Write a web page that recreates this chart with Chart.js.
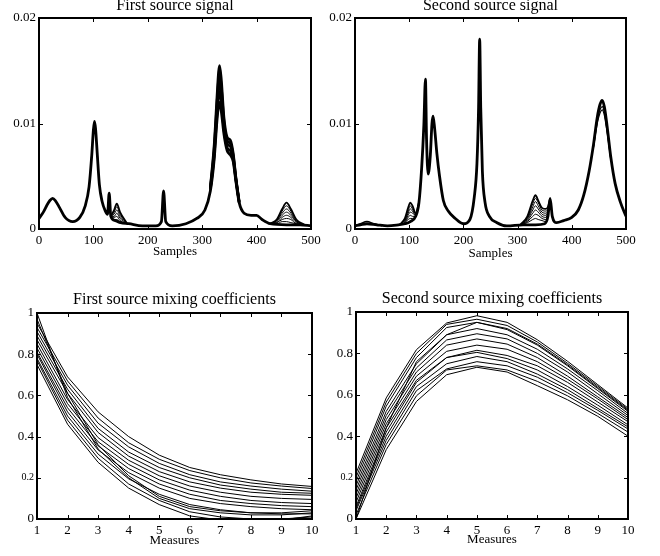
<!DOCTYPE html>
<html>
<head>
<meta charset="UTF-8" />
<title>Source signals and mixing coefficients</title>
<script src="https://cdn.jsdelivr.net/npm/chart.js"></script>
<style>
  html, body { margin: 0; padding: 0; background: #fff; }
  #wrap { position: relative; width: 660px; height: 556px; overflow: hidden; }
  canvas { position: absolute; }
</style>
</head>
<body>
<div id="wrap">
  <canvas id="c1" width="330" height="280" style="left:0;top:0"></canvas>
  <canvas id="c2" width="330" height="280" style="left:315px;top:0"></canvas>
  <canvas id="c3" width="330" height="276" style="left:0;top:280px"></canvas>
  <canvas id="c4" width="330" height="276" style="left:316px;top:280px"></canvas>
</div>

<script>
// ---- first source signal (common curve, then the bands where the curves differ)
const s1X = [0, 8, 15, 20, 25, 30, 38, 48, 62, 75, 85, 92, 97, 100, 102, 104, 107, 111, 116, 122,
  126, 129, 132, 140, 150, 165, 190, 215, 225, 229, 233, 245, 270, 290, 305, 315, 322, 327, 330, 332,
  335, 340, 346, 352, 357, 362, 368, 377, 390, 400, 410, 425, 455, 480, 500];
const s1Y = [0.0010, 0.0016, 0.0023, 0.0027, 0.0029, 0.0027, 0.0020, 0.0011, 0.0007, 0.0011,
  0.0022, 0.0040, 0.0070, 0.0094, 0.0102, 0.0095, 0.0072, 0.0042, 0.0026, 0.0017,
  0.0014, 0.0034, 0.0012, 0.0008, 0.0006, 0.0005, 0.0003, 0.0003, 0.0007, 0.0036,
  0.0007, 0.0003, 0.0005, 0.0010, 0.0018, 0.0036, 0.0066, 0.0102, 0.0117, 0.0120,
  0.0112, 0.0090, 0.0074, 0.0070, 0.0064, 0.0045, 0.0025, 0.0015, 0.0013, 0.0013,
  0.0009, 0.0005, 0.0004, 0.0004, 0.0003];

const s1PX = [95, 99, 102, 105, 109];
const s1P = [[0.0060, 0.0084, 0.0096, 0.0086, 0.0060]];

const s1AX = [132, 138, 143, 149, 162];
const s1A = [
  [0.0012, 0.0018, 0.0024, 0.0016, 0.0005],
  [0.0012, 0.0016, 0.0021, 0.0014, 0.0005],
  [0.0012, 0.0014, 0.0018, 0.0012, 0.0005],
  [0.0012, 0.0012, 0.0015, 0.0010, 0.0005],
  [0.0012, 0.0011, 0.0012, 0.0008, 0.0005],
  [0.0012, 0.0009, 0.0009, 0.0007, 0.0005]
];

const s1BX = [315, 322, 327, 330, 332, 335, 340, 346, 352, 357, 362, 368];
const s1B = [
  [0.0040, 0.0080, 0.0124, 0.0149, 0.0155, 0.0143, 0.0106, 0.0087, 0.0084, 0.0072, 0.0049, 0.0026],
  [0.0039, 0.0076, 0.0118, 0.0141, 0.0147, 0.0136, 0.0102, 0.0084, 0.0081, 0.0070, 0.0048, 0.0026],
  [0.0038, 0.0072, 0.0112, 0.0133, 0.0139, 0.0129, 0.0098, 0.0081, 0.0078, 0.0068, 0.0047, 0.0025],
  [0.0037, 0.0069, 0.0107, 0.0125, 0.0130, 0.0121, 0.0094, 0.0077, 0.0074, 0.0066, 0.0046, 0.0025]
];

const s1CX = [425, 437, 447, 455, 463, 473, 488];
const s1C = [
  [0.0005, 0.0009, 0.0019, 0.0025, 0.0019, 0.0009, 0.0004],
  [0.0005, 0.0008, 0.0017, 0.0022, 0.0017, 0.0008, 0.0004],
  [0.0005, 0.0008, 0.0015, 0.0019, 0.0015, 0.0007, 0.0004],
  [0.0005, 0.0007, 0.0013, 0.0016, 0.0013, 0.0007, 0.0004],
  [0.0005, 0.0006, 0.0011, 0.0013, 0.0011, 0.0006, 0.0004],
  [0.0005, 0.0006, 0.0009, 0.0010, 0.0009, 0.0005, 0.0004],
  [0.0005, 0.0005, 0.0007, 0.0007, 0.0006, 0.0005, 0.0004]
];

// ---- second source signal
const s2X = [0, 10, 22, 40, 60, 80, 92, 102, 112, 118, 123, 127, 130, 132, 135, 139, 142, 144, 147, 151,
  156, 163, 172, 185, 200, 212, 220, 225, 228, 230, 232, 235, 240, 248, 262, 280, 310, 333, 350, 356,
  360, 364, 372, 385, 400, 412, 422, 432, 440, 447, 452, 456, 460, 465, 472, 480, 490, 500];
const s2Y = [0.0003, 0.0004, 0.0005, 0.0004, 0.0003, 0.0004, 0.0005, 0.0007, 0.0012, 0.0025,
  0.0058, 0.0098, 0.0142, 0.0085, 0.0052, 0.0070, 0.0100, 0.0107, 0.0095, 0.0072,
  0.0050, 0.0027, 0.0017, 0.0010, 0.0005, 0.0009, 0.0030, 0.0062, 0.0115, 0.0180,
  0.0115, 0.0055, 0.0025, 0.0012, 0.0006, 0.0003, 0.0004, 0.0004, 0.0005, 0.0012,
  0.0029, 0.0012, 0.0006, 0.0008, 0.0011, 0.0018, 0.0032, 0.0055, 0.0080, 0.0106,
  0.0118, 0.0122, 0.0116, 0.0098, 0.0068, 0.0043, 0.0025, 0.0012];

const s2AX = [0, 10, 22, 35, 50];
const s2A = [[0.0003, 0.0005, 0.0007, 0.0005, 0.0003]];

const s2BX = [82, 92, 98, 102, 106, 112, 118];
const s2B = [
  [0.0004, 0.0010, 0.0020, 0.0025, 0.0022, 0.0015, 0.0025],
  [0.0004, 0.0009, 0.0017, 0.0022, 0.0019, 0.0014, 0.0025],
  [0.0004, 0.0008, 0.0015, 0.0019, 0.0017, 0.0013, 0.0025],
  [0.0004, 0.0007, 0.0013, 0.0016, 0.0015, 0.0013, 0.0025],
  [0.0004, 0.0006, 0.0011, 0.0013, 0.0012, 0.0012, 0.0025],
  [0.0004, 0.0006, 0.0009, 0.0010, 0.0010, 0.0012, 0.0025]
];

const s2CX = [305, 318, 328, 333, 338, 345, 352, 356, 360];
const s2C = [
  [0.0004, 0.0012, 0.0027, 0.0032, 0.0027, 0.0020, 0.0019, 0.0021, 0.0029],
  [0.0004, 0.0011, 0.0024, 0.0029, 0.0025, 0.0018, 0.0017, 0.0019, 0.0029],
  [0.0004, 0.0010, 0.0021, 0.0026, 0.0022, 0.0016, 0.0015, 0.0018, 0.0029],
  [0.0004, 0.0009, 0.0018, 0.0022, 0.0019, 0.0014, 0.0013, 0.0017, 0.0029],
  [0.0004, 0.0008, 0.0015, 0.0018, 0.0016, 0.0012, 0.0011, 0.0016, 0.0029],
  [0.0004, 0.0007, 0.0012, 0.0014, 0.0013, 0.0010, 0.0009, 0.0015, 0.0029],
  [0.0004, 0.0006, 0.0009, 0.0010, 0.0009, 0.0008, 0.0007, 0.0014, 0.0029]
];

const s2DX = [440, 447, 452, 456, 460, 465, 472];
const s2D = [
  [0.0078, 0.0102, 0.0113, 0.0116, 0.0111, 0.0094, 0.0066],
  [0.0077, 0.0100, 0.0110, 0.0113, 0.0108, 0.0092, 0.0065]
];

// ---- mixing coefficients, one row per measured curve
const measures = [1, 2, 3, 4, 5, 6, 7, 8, 9, 10];
const mix1 = [
  [1.00, 0.59, 0.34, 0.20, 0.10, 0.05, 0.03, 0.02, 0.02, 0.03],
  [0.97, 0.61, 0.36, 0.21, 0.11, 0.06, 0.04, 0.03, 0.03, 0.04],
  [0.95, 0.69, 0.52, 0.40, 0.31, 0.25, 0.215, 0.19, 0.17, 0.158],
  [0.93, 0.67, 0.49, 0.37, 0.29, 0.235, 0.20, 0.175, 0.16, 0.148],
  [0.91, 0.65, 0.465, 0.35, 0.27, 0.215, 0.18, 0.16, 0.145, 0.135],
  [0.89, 0.63, 0.44, 0.325, 0.25, 0.20, 0.165, 0.145, 0.13, 0.125],
  [0.87, 0.61, 0.42, 0.305, 0.23, 0.18, 0.15, 0.13, 0.12, 0.115],
  [0.85, 0.58, 0.395, 0.285, 0.21, 0.16, 0.13, 0.11, 0.10, 0.095],
  [0.83, 0.56, 0.375, 0.265, 0.19, 0.14, 0.11, 0.09, 0.08, 0.075],
  [0.81, 0.54, 0.355, 0.245, 0.17, 0.12, 0.09, 0.075, 0.065, 0.06],
  [0.80, 0.52, 0.335, 0.225, 0.15, 0.10, 0.075, 0.06, 0.05, 0.045],
  [0.78, 0.50, 0.315, 0.195, 0.12, 0.07, 0.045, 0.03, 0.025, 0.025],
  [0.77, 0.48, 0.295, 0.17, 0.09, 0.035, 0.01, 0.0, 0.0, 0.01],
  [0.75, 0.46, 0.275, 0.15, 0.07, 0.015, -0.005, -0.01, -0.005, 0.015]
];
const mix2 = [
  [0.22, 0.585, 0.818, 0.947, 0.982, 0.95, 0.866, 0.762, 0.649, 0.536],
  [0.20, 0.565, 0.80, 0.94, 0.965, 0.935, 0.855, 0.752, 0.642, 0.53],
  [0.18, 0.545, 0.78, 0.925, 0.95, 0.92, 0.845, 0.745, 0.635, 0.525],
  [0.0, 0.44, 0.76, 0.89, 0.95, 0.915, 0.84, 0.74, 0.63, 0.52],
  [0.16, 0.52, 0.75, 0.89, 0.92, 0.89, 0.82, 0.725, 0.62, 0.51],
  [0.14, 0.50, 0.73, 0.865, 0.895, 0.87, 0.80, 0.71, 0.605, 0.50],
  [0.12, 0.48, 0.71, 0.84, 0.87, 0.845, 0.78, 0.69, 0.59, 0.49],
  [0.10, 0.46, 0.69, 0.81, 0.84, 0.82, 0.76, 0.675, 0.58, 0.48],
  [0.08, 0.44, 0.67, 0.78, 0.815, 0.79, 0.74, 0.66, 0.565, 0.47],
  [0.06, 0.42, 0.66, 0.78, 0.805, 0.775, 0.72, 0.64, 0.55, 0.455],
  [0.05, 0.40, 0.64, 0.75, 0.785, 0.76, 0.70, 0.625, 0.535, 0.445],
  [0.04, 0.38, 0.62, 0.725, 0.76, 0.74, 0.685, 0.61, 0.525, 0.435],
  [0.02, 0.36, 0.595, 0.72, 0.74, 0.72, 0.665, 0.595, 0.51, 0.42],
  [0.0, 0.335, 0.568, 0.697, 0.733, 0.71, 0.644, 0.576, 0.496, 0.40]
];

const SERIF = '"Liberation Serif", "DejaVu Serif", serif';
Chart.defaults.font.family = SERIF;
Chart.defaults.color = '#000';

function curve(xs, ys, w, smooth) {
  return {
    data: xs.map((x, i) => ({ x: x, y: ys[i] })),
    borderColor: '#000',
    borderWidth: w,
    pointRadius: 0,
    fill: false,
    clip: 0,
    tension: 0,
    cubicInterpolationMode: smooth ? 'monotone' : 'default'
  };
}

function bands(xs, rows, firstW, restW) {
  return rows.map((r, i) => curve(xs, r, i === 0 ? firstW : restW, true));
}

// box with inward ticks on all four sides, like the original figure
const framePlugin = {
  id: 'frame',
  afterDatasetsDraw(chart) {
    const { ctx, chartArea: a, scales } = chart;
    const sx = scales.x, sy = scales.y;
    ctx.save();
    ctx.strokeStyle = '#000';
    ctx.lineWidth = 1;
    ctx.beginPath();
    sx.ticks.forEach(t => {
      const px = Math.round(sx.getPixelForValue(t.value)) + 0.5;
      ctx.moveTo(px, a.bottom); ctx.lineTo(px, a.bottom - 4);
      ctx.moveTo(px, a.top); ctx.lineTo(px, a.top + 4);
    });
    sy.ticks.forEach(t => {
      const py = Math.round(sy.getPixelForValue(t.value)) + 0.5;
      ctx.moveTo(a.left, py); ctx.lineTo(a.left + 4, py);
      ctx.moveTo(a.right, py); ctx.lineTo(a.right - 4, py);
    });
    ctx.stroke();
    ctx.lineWidth = 2;
    ctx.strokeRect(a.left, a.top, a.right - a.left, a.bottom - a.top);
    ctx.restore();
  }
};

function makeChart(id, o) {
  return new Chart(document.getElementById(id), {
    type: 'line',
    data: { datasets: o.datasets },
    plugins: [framePlugin],
    options: {
      responsive: false,
      animation: false,
      devicePixelRatio: 1,
      events: [],
      layout: { padding: { left: 0, right: o.padRight, top: 0, bottom: 0 } },
      plugins: {
        legend: { display: false },
        tooltip: { enabled: false },
        title: {
          display: true,
          text: o.title,
          fullSize: false,
          color: '#000',
          font: { family: SERIF, size: 16, weight: 'normal', lineHeight: 0.75 },
          padding: { top: o.titleTop, bottom: o.titleBottom }
        }
      },
      scales: {
        x: {
          type: 'linear',
          min: o.xMin, max: o.xMax,
          grid: { display: false, drawTicks: false },
          border: { display: false },
          ticks: { stepSize: o.xStep, autoSkip: false, maxRotation: 0, padding: 4,
                   color: '#000', font: { family: SERIF, size: 13 } },
          title: { display: true, text: o.xTitle, color: '#000',
                   font: { family: SERIF, size: 13 }, padding: { top: 0, bottom: o.xTitlePad } },
          afterFit: s => { s.height = o.xHeight; }
        },
        y: {
          type: 'linear',
          min: o.yMin, max: o.yMax,
          grid: { display: false, drawTicks: false },
          border: { display: false },
          ticks: { stepSize: o.yStep, padding: 3, color: '#000',
                   callback: v => String(+v.toFixed(3)),
                   font: o.yFont },
          afterFit: s => { s.width = o.yWidth; }
        }
      }
    }
  });
}

const signalFont = { family: SERIF, size: 13 };
const mixFont = ctx => ({ family: SERIF, size: (ctx.tick && Math.abs(ctx.tick.value - 0.2) < 1e-6) ? 10 : 13 });

makeChart('c1', {
  title: 'First source signal', xTitle: 'Samples',
  xMin: 0, xMax: 500, xStep: 100, yMin: 0, yMax: 0.02, yStep: 0.01,
  yWidth: 39, xHeight: 51, padRight: 19, titleTop: 0, titleBottom: 6, xTitlePad: 21,
  yFont: signalFont,
  datasets: [curve(s1X, s1Y, 2.8, true)]
    .concat(bands(s1PX, s1P, 1, 1))
    .concat(bands(s1AX, s1A, 1.8, 1))
    .concat(bands(s1BX, s1B, 2.6, 2.6))
    .concat(bands(s1CX, s1C, 1.8, 1))
});

makeChart('c2', {
  title: 'Second source signal', xTitle: 'Samples',
  xMin: 0, xMax: 500, xStep: 100, yMin: 0, yMax: 0.02, yStep: 0.01,
  yWidth: 40, xHeight: 51, padRight: 19, titleTop: 0, titleBottom: 6, xTitlePad: 19,
  yFont: signalFont,
  datasets: [curve(s2X, s2Y, 2.8, true)]
    .concat(bands(s2AX, s2A, 1.5, 1))
    .concat(bands(s2BX, s2B, 1.8, 1))
    .concat(bands(s2CX, s2C, 1.8, 1))
    .concat(bands(s2DX, s2D, 1.2, 1.2))
});

makeChart('c3', {
  title: 'First source mixing coefficients', xTitle: 'Measures',
  xMin: 1, xMax: 10, xStep: 1, yMin: 0, yMax: 1, yStep: 0.2,
  yWidth: 37, xHeight: 37, padRight: 18, titleTop: 14, titleBottom: 7, xTitlePad: 8,
  yFont: mixFont,
  datasets: mix1.map(r => curve(measures, r, 1, false))
});

makeChart('c4', {
  title: 'Second source mixing coefficients', xTitle: 'Measures',
  xMin: 1, xMax: 10, xStep: 1, yMin: 0, yMax: 1, yStep: 0.2,
  yWidth: 40, xHeight: 37, padRight: 18, titleTop: 13, titleBottom: 7, xTitlePad: 9,
  yFont: mixFont,
  datasets: mix2.map(r => curve(measures, r, 1, false))
});
</script>
</body>
</html>
